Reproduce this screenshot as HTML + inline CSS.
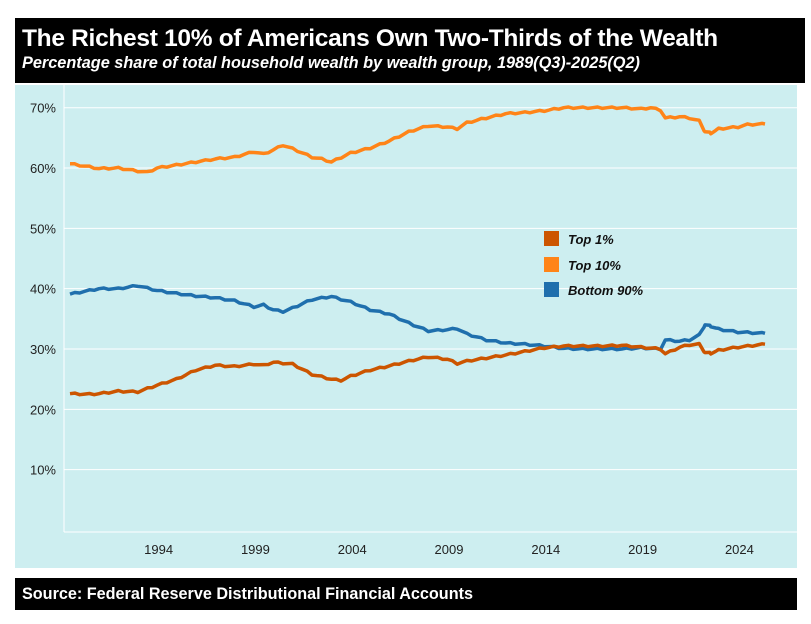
<!DOCTYPE html><html><head><meta charset="utf-8"><style>
body{margin:0;width:811px;height:624px;background:#fff;font-family:"Liberation Sans",sans-serif;position:relative;overflow:hidden}
.hd{position:absolute;left:15px;top:18px;width:790px;height:65px;background:#000;color:#fff}
.t{position:absolute;left:7px;top:7px;font-size:24.5px;font-weight:bold;letter-spacing:-0.3px;white-space:nowrap}
.s{position:absolute;left:7px;top:36px;font-size:16.3px;font-weight:bold;font-style:italic;white-space:nowrap}
.src{position:absolute;left:15px;top:578px;width:782px;height:32px;background:#000;color:#fff;font-size:16.2px;font-weight:bold;line-height:32px;padding-left:7px;box-sizing:border-box}
svg{position:absolute;left:0;top:0}
</style></head><body>
<div class="hd"><div class="t">The Richest 10% of Americans Own Two-Thirds of the Wealth</div><div class="s">Percentage share of total household wealth by wealth group, 1989(Q3)-2025(Q2)</div></div>
<svg width="811" height="624" id="c">
<rect x="15" y="85" width="782" height="483" fill="#cdeef0"/>
<g id="g"></g>
</svg>
<div class="src">Source: Federal Reserve Distributional Financial Accounts</div>
<script>
var g=document.getElementById('g'),s='';
function X(t){return 70+(t-1989.5)*19.36}function Y(v){return 530-v*6.033}
for(var v=10;v<=70;v+=10){var y=Y(v);s+='<line x1="64" x2="797" y1="'+y+'" y2="'+y+'" stroke="#fff" stroke-width="1"/>';s+='<text x="56" y="'+(y+5)+'" font-size="13" text-anchor="end" fill="#222">'+v+'%</text>';}
s+='<line x1="64" x2="797" y1="532" y2="532" stroke="#fff"/><line x1="64" x2="64" y1="85" y2="532" stroke="#fff"/>';
for(var yr=1994;yr<=2024;yr+=5){var x=X(yr)+1.5;s+='<text x="'+x+'" y="554" font-size="13" text-anchor="middle" fill="#222">'+yr+'</text>';}
var T10=[[1989.5,60.7],[1990.5,60.2],[1991,59.9],[1992,60],[1993,59.5],[1993.5,59.3],[1994,60],[1995,60.5],[1996,61],[1997,61.5],[1998,61.8],[1999,62.7],[1999.5,62.3],[2000,63],[2000.5,63.8],[2001,63.2],[2002,61.8],[2002.5,61.5],[2003,61],[2004,62.5],[2005,63.3],[2006,64.5],[2007,66],[2008,67],[2009,66.8],[2009.5,66.5],[2010,67.5],[2011,68.3],[2012,69],[2013,69.2],[2014,69.5],[2015,70],[2016,70],[2017,70],[2018,70],[2019,69.8],[2019.5,70],[2020,69.6],[2020.25,68.3],[2021,68.5],[2021.5,68.3],[2022,67.8],[2022.3,66],[2022.6,65.8],[2023,66.5],[2024,66.8],[2024.5,67.2],[2025.4,67.3]];
var B90=[[1989.5,39.1],[1990.5,39.7],[1991,40],[1992,40],[1993,40.5],[1994,39.7],[1995,39.2],[1996,38.8],[1997,38.5],[1998,38],[1999,37],[1999.5,37.3],[2000,36.5],[2000.5,36.2],[2001,36.8],[2002,38.2],[2003,38.7],[2004,37.8],[2005,36.5],[2006,35.8],[2007,34.3],[2008,33],[2009,33.2],[2009.5,33.4],[2010,32.5],[2011,31.5],[2012,31],[2013,30.8],[2014,30.5],[2015,30.1],[2016,30],[2017,30],[2018,30],[2019,30.2],[2020,30],[2020.25,31.5],[2021,31.3],[2021.5,31.5],[2022,32.3],[2022.3,34],[2022.6,33.8],[2023,33.3],[2024,32.8],[2025.4,32.6]];
var T1=[[1989.5,22.6],[1990.5,22.5],[1991,22.6],[1992,23],[1993,22.9],[1994,24],[1995,25],[1996,26.5],[1997,27.3],[1998,27.1],[1999,27.5],[1999.5,27.3],[2000,27.8],[2001,27.5],[2002,25.8],[2003,25],[2003.5,24.8],[2004,25.5],[2005,26.5],[2006,27.2],[2007,28],[2008,28.7],[2009,28.3],[2009.5,27.6],[2010,28],[2011,28.5],[2012,29],[2013,29.6],[2014,30.2],[2015,30.5],[2016,30.5],[2017,30.5],[2018,30.6],[2019,30.3],[2020,30],[2020.25,29.2],[2021,30.3],[2021.5,30.7],[2022,30.8],[2022.3,29.4],[2022.6,29.3],[2023,29.8],[2024,30.3],[2025.4,30.8]];
function interp(d){var o=[],k=0;for(var i=0;i<d.length-1;i++){var a=d[i],b=d[i+1];for(var t=a[0];t<b[0]-0.01;t+=0.25){var f=(t-a[0])/(b[0]-a[0]);k++;o.push([t,a[1]+f*(b[1]-a[1])+((k%3)-1)*0.12]);}}o.push(d[d.length-1]);return o;}
function pl(d,c){d=interp(d);return '<polyline fill="none" stroke="'+c+'" stroke-width="3.5" stroke-linejoin="round" points="'+d.map(function(p){return X(p[0]).toFixed(1)+','+Y(p[1]).toFixed(1)}).join(' ')+'"/>';}
s+=pl(B90,'#1f6fad')+pl(T1,'#cc5500')+pl(T10,'#ff8418');
var L=[['Top 1%','#cc5500',239],['Top 10%','#ff8418',265],['Bottom 90%','#1f6fad',290]];
L.forEach(function(l){s+='<rect x="544" y="'+(l[2]-8)+'" width="15" height="15" fill="'+l[1]+'"/><text x="568" y="'+(l[2]+5)+'" font-size="13" font-weight="bold" font-style="italic" fill="#111">'+l[0]+'</text>';});
g.innerHTML=s;
</script>
</body></html>
